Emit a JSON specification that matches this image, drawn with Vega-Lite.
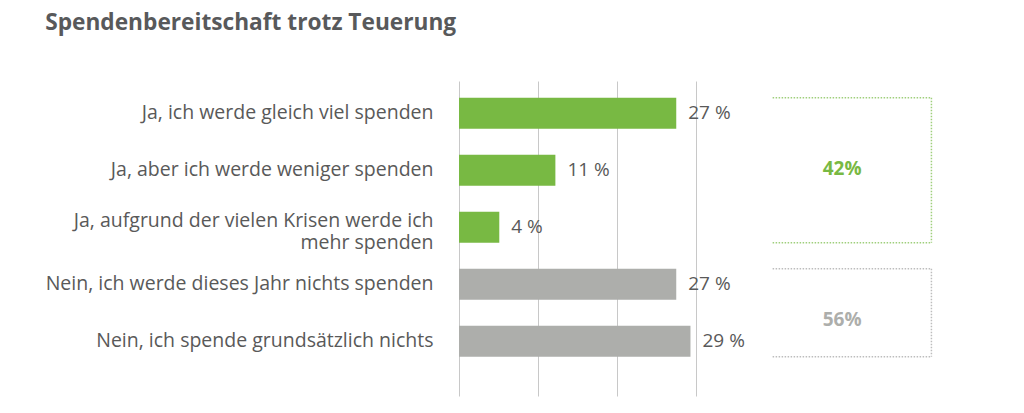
{
  "$schema": "https://vega.github.io/schema/vega-lite/v6.json",
  "width": 474,
  "height": 315,
  "padding": {"left": 45, "top": 12, "right": 5, "bottom": 5},
  "background": "white",
  "title": {"text": "Spendenbereitschaft trotz Teuerung", "anchor": "start", "frame": "bounds", "font": "Open Sans", "fontSize": 22.7, "fontWeight": "bold", "color": "#58595b", "offset": 46},
  "config": {"view": {"stroke": null}, "font": "Open Sans"},
  "datasets": {
    "answers": [
      {"answer": "Ja, ich werde gleich viel spenden", "group": "Ja", "share": 27.5, "label": "27 %"},
      {"answer": "Ja, aber ich werde weniger spenden", "group": "Ja", "share": 12.2, "label": "11 %"},
      {"answer": "Ja, aufgrund der vielen Krisen werde ich mehr spenden", "group": "Ja", "share": 5.1, "label": "4 %"},
      {"answer": "Nein, ich werde dieses Jahr nichts spenden", "group": "Nein", "share": 27.5, "label": "27 %"},
      {"answer": "Nein, ich spende grundsätzlich nichts", "group": "Nein", "share": 29.3, "label": "29 %"}
    ],
    "groups": [
      {"group": "Ja", "first": "Ja, ich werde gleich viel spenden", "middle": "Ja, aber ich werde weniger spenden", "last": "Ja, aufgrund der vielen Krisen werde ich mehr spenden", "total": "42%"},
      {"group": "Nein", "first": "Nein, ich werde dieses Jahr nichts spenden", "middle": "Nein, ich spende grundsätzlich nichts", "last": "Nein, ich spende grundsätzlich nichts", "total": "56%"}
    ]
  },
  "encoding": {
    "y": {
      "field": "answer", "type": "nominal", "sort": null,
      "scale": {
        "domain": ["Ja, ich werde gleich viel spenden", "Ja, aber ich werde weniger spenden", "Ja, aufgrund der vielen Krisen werde ich mehr spenden", "Nein, ich werde dieses Jahr nichts spenden", "Nein, ich spende grundsätzlich nichts"],
        "paddingInner": 0.456, "paddingOuter": 0.491, "align": 0.3
      },
      "axis": {
        "title": null, "ticks": false, "domain": false, "labelFont": "Open Sans", "labelFontSize": 19.5, "labelColor": "#595959", "labelPadding": 26, "labelLimit": 0, "labelLineHeight": 22,
        "labelOffset": {"condition": {"test": "datum.value == 'Ja, aufgrund der vielen Krisen werde ich mehr spenden'", "value": -6}, "value": 0},
        "labelExpr": "datum.value == 'Ja, aufgrund der vielen Krisen werde ich mehr spenden' ? ['Ja, aufgrund der vielen Krisen werde ich', 'mehr spenden'] : datum.value"
      }
    }
  },
  "layer": [
    {
      "data": {"name": "answers"},
      "mark": {"type": "bar"},
      "encoding": {
        "x": {"field": "share", "type": "quantitative", "scale": {"domain": [0, 60], "nice": false},
          "axis": {"title": null, "values": [0, 10, 20, 30], "labels": false, "ticks": false, "domain": false, "grid": true, "gridColor": "#c8c8c8", "gridWidth": 1}},
        "fill": {"field": "group", "type": "nominal", "scale": {"domain": ["Ja", "Nein"], "range": ["#78b943", "#adaeab"]}, "legend": null}
      }
    },
    {
      "data": {"name": "answers"},
      "mark": {"type": "text", "align": "left", "baseline": "middle", "dx": 12, "font": "Open Sans", "fontSize": 19, "color": "#595959"},
      "encoding": {
        "x": {"field": "share", "type": "quantitative"},
        "text": {"field": "label"}
      }
    },
    {
      "data": {"name": "groups"},
      "mark": {"type": "rule", "strokeDash": [1.5, 1.5], "strokeWidth": 1.5},
      "encoding": {
        "x": {"datum": 39.7}, "x2": {"datum": 59.8},
        "y": {"field": "first", "type": "nominal", "bandPosition": 0},
        "stroke": {"field": "group", "type": "nominal", "scale": {"domain": ["Ja", "Nein"], "range": ["#9fcf7c", "#bdbdbd"]}, "legend": null}
      }
    },
    {
      "data": {"name": "groups"},
      "mark": {"type": "rule", "strokeDash": [1.5, 1.5], "strokeWidth": 1.5},
      "encoding": {
        "x": {"datum": 39.7}, "x2": {"datum": 59.8},
        "y": {"field": "last", "type": "nominal", "bandPosition": 1},
        "stroke": {"field": "group", "type": "nominal", "legend": null}
      }
    },
    {
      "data": {"name": "groups"},
      "mark": {"type": "rule", "strokeDash": [1.5, 1.5], "strokeWidth": 1.5},
      "encoding": {
        "x": {"datum": 59.8},
        "y": {"field": "first", "type": "nominal", "bandPosition": 0},
        "y2": {"field": "last", "bandPosition": 1},
        "stroke": {"field": "group", "type": "nominal", "legend": null}
      }
    },
    {
      "data": {"name": "groups"},
      "transform": [{"filter": "datum.group == 'Ja'"}],
      "mark": {"type": "text", "align": "center", "baseline": "alphabetic", "font": "Open Sans", "fontSize": 19, "fontWeight": "bold"},
      "encoding": {
        "x": {"datum": 48.5},
        "y": {"field": "middle", "type": "nominal", "bandPosition": 0.65},
        "text": {"field": "total"},
        "fill": {"field": "group", "type": "nominal", "legend": null}
      }
    },
    {
      "data": {"name": "groups"},
      "transform": [{"filter": "datum.group == 'Nein'"}],
      "mark": {"type": "text", "align": "center", "baseline": "alphabetic", "font": "Open Sans", "fontSize": 19, "fontWeight": "bold"},
      "encoding": {
        "x": {"datum": 48.5},
        "y": {"field": "last", "type": "nominal", "bandPosition": 0},
        "text": {"field": "total"},
        "fill": {"field": "group", "type": "nominal", "legend": null}
      }
    }
  ]
}
